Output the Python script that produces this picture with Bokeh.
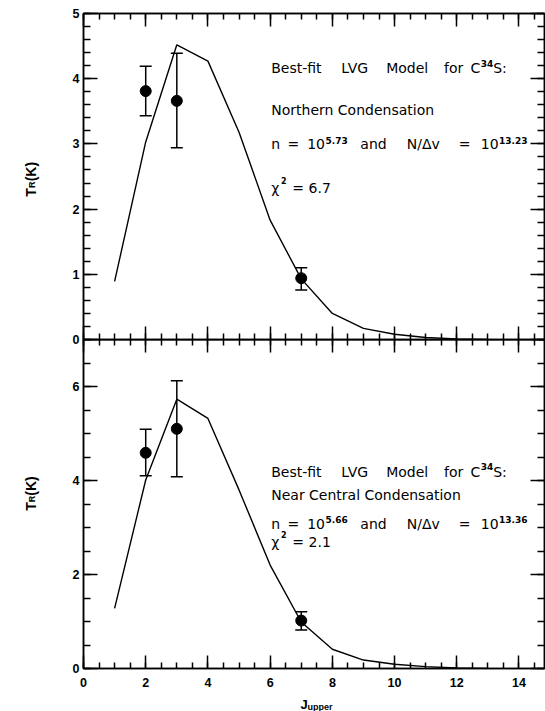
import math
from bokeh.plotting import figure
from bokeh.models import (Range1d, LinearAxis, SingleIntervalTicker, Label,
                          Whisker, TeeHead, ColumnDataSource)
from bokeh.layouts import column, row
from bokeh.embed import file_html
from bokeh.resources import INLINE

# ---------------- data ----------------
j_model = [1, 2, 3, 4, 5, 6, 7, 8, 9, 10, 11, 12, 13]
tr_model_north = [0.89, 3.03, 4.52, 4.27, 3.18, 1.83, 0.93, 0.40, 0.17, 0.08, 0.03, 0.01, 0.0]
tr_model_central = [1.28, 4.01, 5.73, 5.32, 3.80, 2.20, 0.99, 0.41, 0.18, 0.09, 0.04, 0.01, 0.0]

j_obs = [2, 3, 7]
tr_obs_north = [3.81, 3.66, 0.94]
tr_lo_north = [3.43, 2.94, 0.76]
tr_hi_north = [4.19, 4.39, 1.10]
tr_obs_central = [4.59, 5.10, 1.02]
tr_lo_central = [4.10, 4.08, 0.82]
tr_hi_central = [5.09, 6.12, 1.21]

title_words = ["Best-fit", "LVG", "Model", "for", "C", "34", "S:"]
region_north = "Northern Condensation"
region_central = "Near Central Condensation"
param_north = ["n", "=", "10", "5.73", "and", "N/\u0394v", "=", "10", "13.23"]
param_central = ["n", "=", "10", "5.66", "and", "N/\u0394v", "=", "10", "13.36"]
chi_north = ["\u03c7", "2", "=", "6.7"]
chi_central = ["\u03c7", "2", "=", "2.1"]
y_label = ["T", "R", "(K)"]
x_label = ["J", "upper"]

X_END = 14.82
ANN_FONT = "DejaVu Sans"
TICK_FONT = "Liberation Sans"
LAB_W = 45
OVERLAP = 8


def txt(p, text, x, y, size, font=ANN_FONT, bold=False, angle=0.0):
    p.add_layout(Label(x=x, y=y, text=text, text_font=font,
                       text_font_size=f"{size}px",
                       text_font_style="bold" if bold else "normal",
                       text_color="black", text_align="left",
                       text_baseline="alphabetic", angle=angle))


def blank_fig(width, height, xr, yr):
    f = figure(width=width, height=height, x_range=Range1d(*xr),
               y_range=Range1d(*yr), output_backend="svg",
               toolbar_location=None, x_axis_location=None,
               y_axis_location=None, min_border=0)
    f.grid.visible = False
    f.outline_line_color = None
    f.border_fill_color = None
    f.background_fill_color = None
    return f


def make_panel(height, b_top, b_bottom, y_end, y_int, y_minor, x_labels):
    p = figure(width=545 - LAB_W, height=height, x_range=Range1d(0, X_END),
               y_range=Range1d(0, y_end), output_backend="svg",
               toolbar_location=None, x_axis_location=None,
               y_axis_location=None, min_border_left=83 - LAB_W,
               min_border_right=1, min_border_top=b_top,
               min_border_bottom=b_bottom)
    p.grid.visible = False
    p.outline_line_color = "black"
    p.outline_line_width = 1.5
    xt = SingleIntervalTicker(interval=2, num_minor_ticks=4)
    yt = SingleIntervalTicker(interval=y_int, num_minor_ticks=y_minor)
    for loc, ticker, lab in [("left", yt, True), ("right", yt, False),
                             ("above", xt, False), ("below", xt, x_labels)]:
        ax = LinearAxis(ticker=ticker)
        ax.axis_line_width = 1.5
        ax.major_tick_out = 0
        ax.minor_tick_out = 0
        if loc in ("left", "right"):
            ax.major_tick_in = 14
            ax.minor_tick_in = 7
        else:
            ax.major_tick_in = 13
            ax.minor_tick_in = 6
        ax.major_tick_line_width = 1.5
        ax.minor_tick_line_width = 1.5
        if lab:
            ax.major_label_text_font = TICK_FONT
            ax.major_label_text_font_style = "bold"
            ax.major_label_text_font_size = "12.5px"
            ax.major_label_text_color = "black"
            ax.major_label_standoff = 4 if loc == "left" else 9
        else:
            ax.major_label_text_font_size = "0px"
            ax.major_label_text_color = None
            ax.major_label_text_alpha = 0
            ax.major_label_standoff = 0
        p.add_layout(ax, loc)
    return p


def draw_data(p, model, obs, lo, hi):
    p.line(j_model, model, line_color="black", line_width=1.4)
    src = ColumnDataSource(dict(x=j_obs, y=obs, lo=lo, hi=hi))
    p.add_layout(Whisker(base="x", upper="hi", lower="lo", source=src,
                         line_color="black", line_width=1.5,
                         upper_head=TeeHead(size=12, line_color="black", line_width=1.5),
                         lower_head=TeeHead(size=12, line_color="black", line_width=1.5)))
    p.scatter("x", "y", source=src, size=11, color="black")


def annotate(p, region, params, chi, y1, ys1, y2, y3, ys3, y4, ys4):
    xw = [6.035, 8.29, 9.73, 11.59, 12.44, 12.77, 13.17]
    for i, w in enumerate(title_words):
        sup = i == 5
        txt(p, w, xw[i], ys1 if sup else y1, 9 if sup else 14, bold=sup)
    txt(p, region, 6.035, y2, 14)
    xs = [6.035, 6.56, 7.19, 7.78, 8.90, 10.39, 12.06, 12.77, 13.36]
    for i, w in enumerate(params):
        sup = i in (3, 8)
        txt(p, w, xs[i], ys3 if sup else y3, 9 if sup else 14, bold=sup)
    txt(p, chi[0], 6.035, y4, 14)
    txt(p, chi[1], 6.35, ys4, 8, bold=True)
    txt(p, chi[2], 6.71, y4, 14)
    txt(p, chi[3], 7.235, y4, 14)


def ylabel(f, y0, y1, y2):
    txt(f, y_label[0], 30, y0, 14, TICK_FONT, True, math.pi / 2)
    txt(f, y_label[1], 31.5, y1, 9, TICK_FONT, True, math.pi / 2)
    txt(f, y_label[2], 30, y2, 14, TICK_FONT, True, math.pi / 2)


# ---------------- top panel ----------------
p1 = make_panel(339 + OVERLAP, 13, OVERLAP, 5, 1, 5, False)
draw_data(p1, tr_model_north, tr_obs_north, tr_lo_north, tr_hi_north)
annotate(p1, region_north, param_north, chi_north,
         4.157, 4.234, 3.515, 2.995, 3.057, 2.32, 2.443)
yl1 = blank_fig(LAB_W, 339 + OVERLAP, (0, LAB_W), (-OVERLAP / 65.2, 5.199))
ylabel(yl1, 2.209, 2.351, 2.459)

# ---------------- bottom panel ----------------
p2 = make_panel(351, 0, 22, 7, 2, 4, True)
p2.border_fill_color = None
p2.background_fill_color = None
draw_data(p2, tr_model_central, tr_obs_central, tr_lo_central, tr_hi_central)
annotate(p2, region_central, param_central, chi_central,
         4.185, 4.292, 3.688, 3.083, 3.168, 2.69, 2.86)
yl2 = blank_fig(LAB_W, 351, (0, LAB_W), (-0.468, 7.0))
ylabel(yl2, 3.111, 3.303, 3.453)

# ---------------- x-axis label ----------------
xl = blank_fig(545, 21, (-83 / 31.1, 462 / 31.1), (0, 21))
txt(xl, x_label[0], 6.977, 7, 13, TICK_FONT, True)
txt(xl, x_label[1], 7.203, 4.5, 9, TICK_FONT, True)

r1 = row(yl1, p1)
r2 = row(yl2, p2)
r2.styles = {"margin-top": f"-{OVERLAP}px"}
layout = column(r1, r2, xl)
open("out.html", "w").write(file_html(layout, INLINE))
